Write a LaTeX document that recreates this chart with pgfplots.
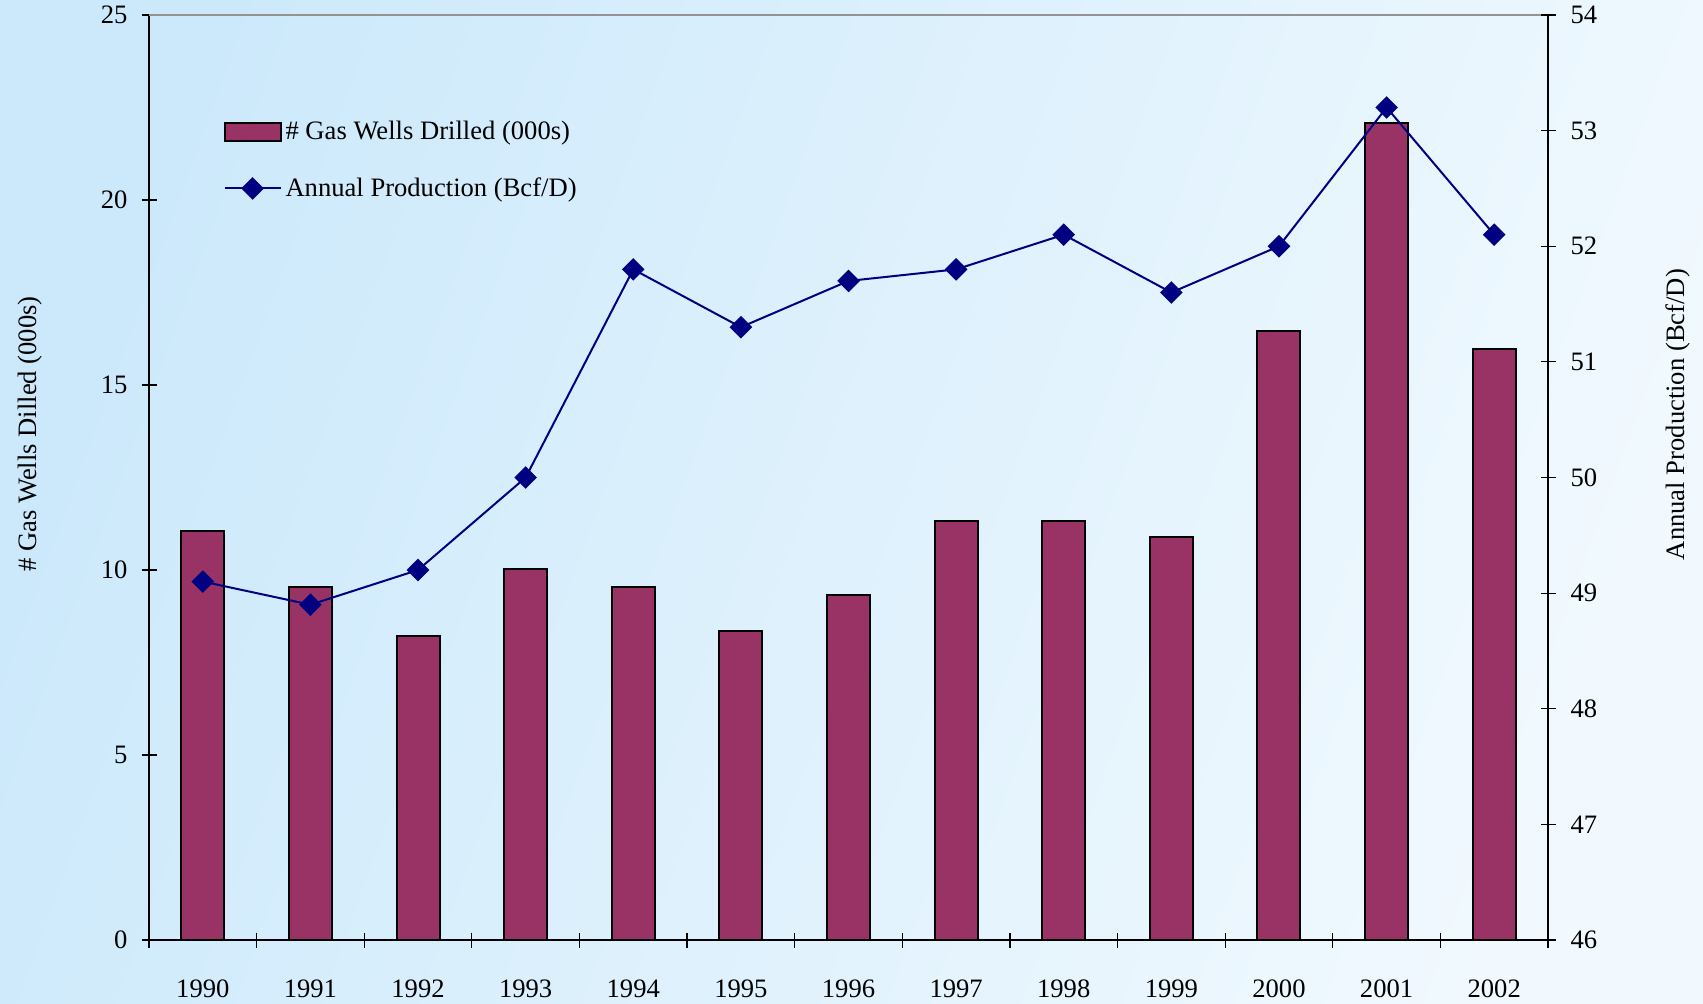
\documentclass[border=0pt]{standalone}
\usepackage{fontspec}
\setmainfont{Liberation Serif}
\usepackage{pgfplots}
\usepackage{pgfplotstable}
\pgfplotsset{compat=1.18}

\definecolor{barc}{HTML}{993366}
\definecolor{linec}{HTML}{000080}
\definecolor{bgA}{HTML}{CCE9FB}
\definecolor{bgB}{HTML}{F1F9FE}

% x: 0 = 1990 ... 12 = 2002
\pgfplotstableread{
x  wells  prod
0  11.05  49.1
1  9.55   48.9
2  8.22   49.2
3  10.02  50.0
4  9.55   51.8
5  8.36   51.3
6  9.32   51.7
7  11.33  51.8
8  11.33  52.1
9  10.90  51.6
10 16.47  52.0
11 22.08  53.2
12 15.97  52.1
}\gasdata

\pgfplotsset{
  common/.style={
    at={(74.5pt,31.5pt)}, anchor=south west,
    scale only axis, width=699.5pt, height=462.5pt,
    xmin=-0.5, xmax=12.5,
    tick align=center, major tick length=7.5pt,
    tick style={black, line width=0.6pt},
    axis line style={black, line width=0.6pt},
    font=\fontsize{13.3}{16}\selectfont,
    /pgf/number format/assume math mode=true,
  },
  barleg/.style={legend image code/.code={\draw[##1] (0pt,-4.5pt) rectangle (28pt,4.5pt);}},
  lineleg/.style={legend image code/.code={\draw[##1, mark repeat=2, mark phase=2] plot coordinates {(0pt,0pt) (14pt,0pt) (28pt,0pt)};}},
}

\begin{document}
\begin{tikzpicture}
\useasboundingbox (0,0) rectangle (851.5pt,501.5pt);
\shade[top color=bgA, bottom color=bgB, shading angle=70] (0,0) rectangle (851.5pt,501.5pt);

\begin{axis}[common,
  axis y line*=left, axis x line*=bottom,
  ymin=0, ymax=25, ytick={0,5,10,15,20,25},
  xtick={-0.5,0.5,1.5,2.5,3.5,4.5,5.5,6.5,7.5,8.5,9.5,10.5,11.5,12.5},
  x tick label as interval,
  xticklabels={1990,1991,1992,1993,1994,1995,1996,1997,1998,1999,2000,2001,2002},
  xticklabel style={yshift=-12.5pt},
  yticklabel style={xshift=-3.5pt},
  ylabel={\# Gas Wells Dilled (000s)},
  ylabel style={at={(rel axis cs:-0.085,0.547)}, anchor=center},
  after end axis/.code={\draw[gray!85, line width=1pt] (rel axis cs:0,1) -- (rel axis cs:1,1);},
]
\addplot[ybar, bar width=0.4, fill=barc, draw=black, line width=1pt] table[x=x, y=wells] {\gasdata};
\end{axis}

\begin{axis}[common,
  axis y line*=right, axis x line=none,
  ymin=46, ymax=54, ytick={46,47,48,49,50,51,52,53,54},
  yticklabel style={xshift=4pt},
  ylabel={Annual Production (Bcf/D)},
  ylabel style={at={(rel axis cs:1.093,0.568)}, anchor=center},
  legend style={at={(rel axis cs:0.053,0.890)}, anchor=north west,
    draw=none, fill=none, inner sep=0pt, row sep=13.5pt,
    font=\fontsize{13.3}{16}\selectfont},
  legend cell align=left,
]
\addlegendimage{fill=barc, draw=black, line width=1pt, barleg}
\addlegendentry{\# Gas Wells Drilled (000s)}
\addplot[linec, line width=1pt, mark=square*, mark size=3.5pt,
  mark options={rotate=45, solid}, lineleg]
  table[x=x, y=prod] {\gasdata};
\addlegendentry{Annual Production (Bcf/D)}
\end{axis}
\end{tikzpicture}
\end{document}
